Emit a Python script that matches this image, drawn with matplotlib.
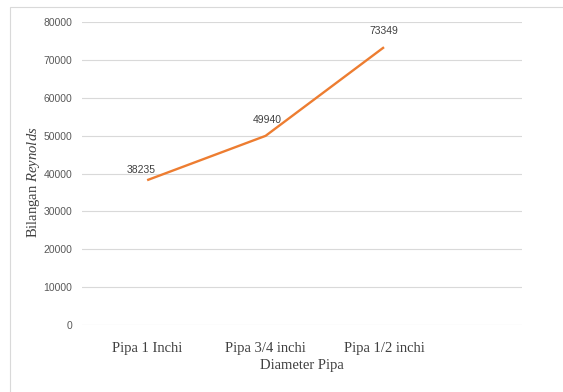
import matplotlib
matplotlib.use("Agg")
import matplotlib.pyplot as plt
from matplotlib.patches import Rectangle

categories = ["Pipa 1 Inchi", "Pipa 3/4 inchi", "Pipa 1/2 inchi"]
reynolds = [38235, 49940, 73349]
yticks = [0, 10000, 20000, 30000, 40000, 50000, 60000, 70000, 80000]

plt.rcParams["mathtext.fontset"] = "custom"
plt.rcParams["mathtext.it"] = "Liberation Serif:italic"
plt.rcParams["mathtext.rm"] = "Liberation Serif"

W, H = 563, 392
fig = plt.figure(figsize=(W / 100, H / 100), dpi=100)
# outer chart border (cropped at right/bottom)
fig.patches.append(Rectangle((10 / W, -0.1), 1.2, (H - 7) / H + 0.1,
                             transform=fig.transFigure, fill=False,
                             edgecolor="#D9D9D9", linewidth=0.8))

ax = fig.add_axes([82 / W, 1 - 325 / H, (522 - 82) / W, (325 - 22) / H])
x = list(range(len(categories)))
ax.plot(x, reynolds, color="#ED7D31", linewidth=1.7, solid_capstyle="butt")

offsets = [(-4, 4), (1, 8), (0, 8)]
for xi, v, off in zip(x, reynolds, offsets):
    ax.annotate(str(v), (xi, v), xytext=off, textcoords="offset points",
                ha="center", va="bottom", fontsize=7.5, color="#404040",
                family="Liberation Sans")

ax.set_xlim(-0.55, 3.165)
ax.set_ylim(0, 80000)
ax.set_yticks(yticks)
ax.set_yticklabels([str(t) for t in yticks], family="Liberation Sans",
                   fontsize=7.5, color="#595959")
ax.set_xticks(x)
ax.set_xticklabels(categories, family="Liberation Serif", fontsize=10.5,
                   color="#404040")
ax.tick_params(length=0)
ax.tick_params(axis="y", pad=7)
ax.tick_params(axis="x", pad=12)
ax.grid(axis="y", color="#D9D9D9", linewidth=0.8)
ax.set_axisbelow(True)
for s in ax.spines.values():
    s.set_visible(False)

ax.set_xlabel("Diameter Pipa", family="Liberation Serif", fontsize=10.5,
              color="#404040", labelpad=3)
ax.set_ylabel(r"Bilangan $\mathit{Reynolds}$", family="Liberation Serif",
              fontsize=10.5, color="#404040")
ax.yaxis.set_label_coords(-0.091, 0.47)

fig.savefig("out.png", dpi=100)
